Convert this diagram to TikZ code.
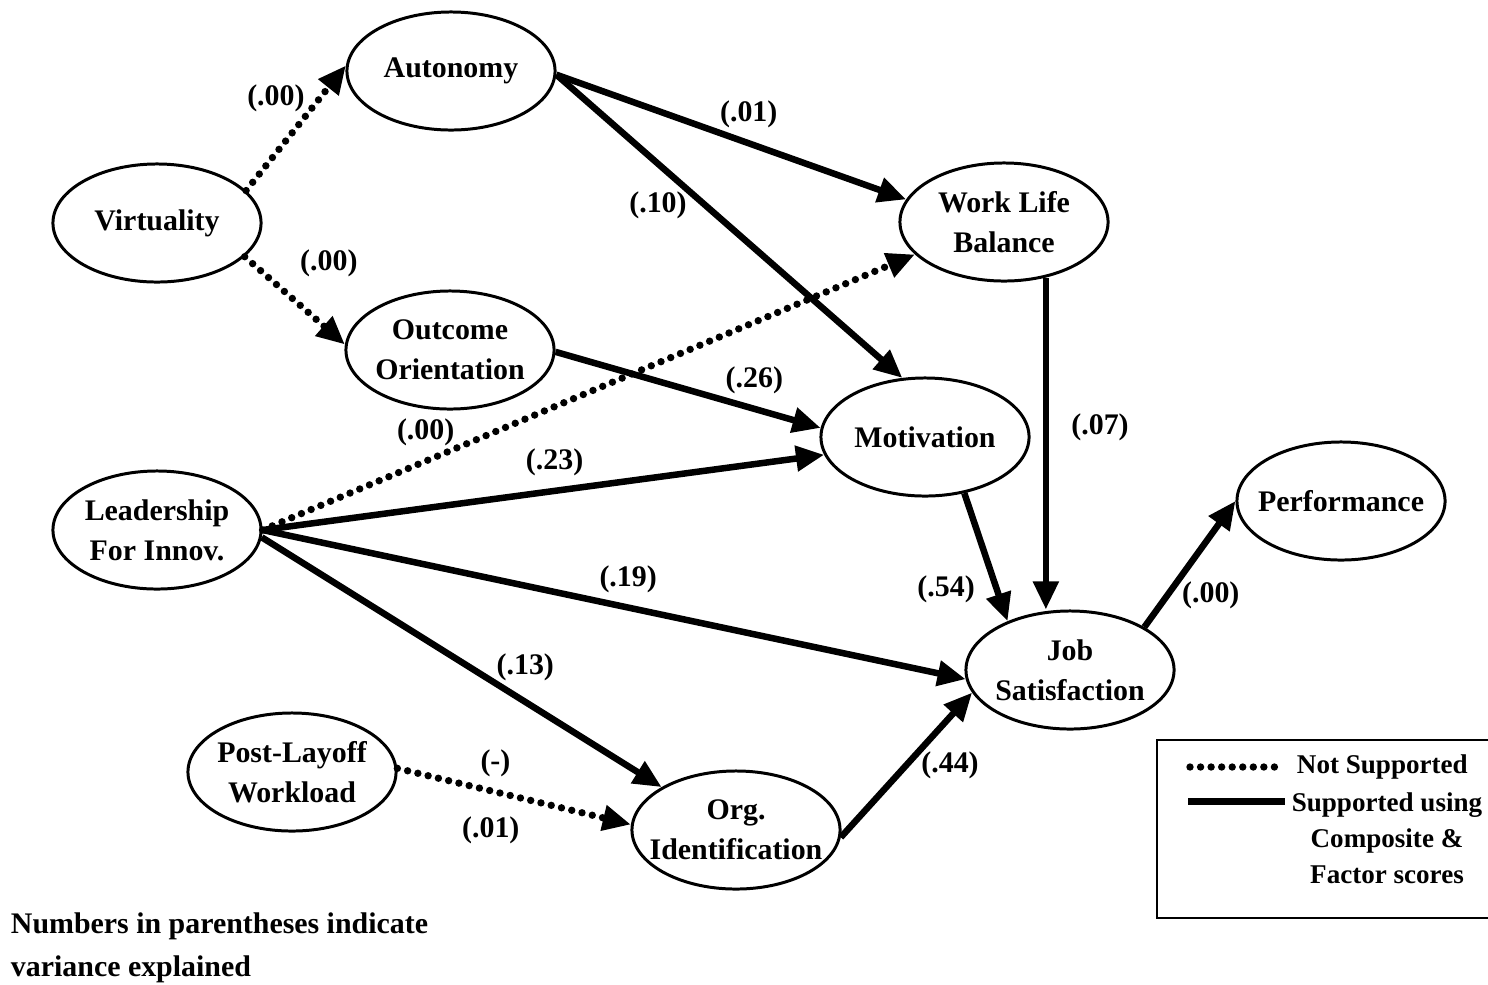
\documentclass[tikz,border=0pt]{standalone}
\usepackage{fontspec}
\setmainfont{Liberation Serif}
\usetikzlibrary{arrows.meta,shapes,positioning}

\begin{document}
\begin{tikzpicture}[x=0.01cm,y=-0.01cm,->,>={Triangle[length=8pt,width=7pt]},line width=1.85pt,
  every node/.style={font=\bfseries\fontsize{8.5}{11.4}\selectfont},
  var/.style={ellipse,draw,line width=0.85pt,minimum width=2.08cm,minimum height=1.18cm,inner sep=-4pt,align=center},
  nsup/.style={line width=2.1pt,dash pattern=on 0pt off 3pt,line cap=round}]

  \useasboundingbox (0,0) rectangle (1488,984);

  \node[var] (aut) at (451,71) {Autonomy};
  \node[var] (vir) at (157,223) {Virtuality};
  \node[var] (oo) at (450,350) {Outcome\\Orientation};
  \node[var] (wlb) at (1004,222) {Work Life\\Balance};
  \node[var] (mot) at (925,437) {Motivation};
  \node[var] (lead) at (157,530) {Leadership\\For Innov.};
  \node[var] (perf) at (1341,501) {Performance};
  \node[var] (js) at (1070,670) {Job\\Satisfaction};
  \node[var] (plw) at (292,772) {Post-Layoff\\Workload};
  \node[var] (oi) at (736,830) {Org.\\Identification};

  \path
    (vir.20) edge[nsup] node[pos=0.74,left] {(.00)} (aut.177)
    (vir.-21) edge[nsup] node[pos=0.4,above right] {(.00)} (oo.177)
    (aut.-2) edge node[pos=0.55,above] {(.01)} (wlb.167)
             edge node[pos=0.43,left=1pt] {(.10)} (mot.111)
    (oo.-1) edge node[pos=0.75,above] {(.26)} (mot.175)
    (lead.east) edge[nsup] node[pos=0.25,above] {(.00)} (wlb.-160)
                edge node[pos=0.52,above] {(.23)} (mot.-170)
                edge node[pos=0.52,above] {(.19)} (js.-175)
    (lead.-4) edge node[pos=0.55,above right,yshift=-6pt] {(.13)} (oi.150)
    (plw.2) edge[nsup] node[pos=0.42,above] {(-)} node[pos=0.4,below=3pt] {(.01)} (oi.177)
    (wlb.-53) edge node[pos=0.45,right=3pt] {(.07)} (wlb.-53 |- js.north)
    (mot.-55) edge node[pos=0.75,left=2pt] {(.54)} (js.142)
    (oi.-4) edge node[pos=0.5,right] {(.44)} (js.-167)
    (js.30) edge node[pos=0.25,right] {(.00)} (perf.west);

  % legend
  \draw[-,line width=0.6pt] (1490,740) -- (1157,740) -- (1157,918) -- (1490,918);
  \coordinate (d1) at (1190,767);
  \coordinate (d2) at (1280,767);
  \draw[-,nsup] (d1) -- (d2);
  \node[anchor=west,font=\bfseries\fontsize{7.7}{10.2}\selectfont] (ns) at (1282,767) {Not Supported};
  \coordinate (s1) at (1188,801);
  \coordinate (s2) at (1285,801);
  \draw[-,line width=2pt] (s1) -- (s2);
  \node[align=center,font=\bfseries\fontsize{7.7}{10.2}\selectfont] (su) at (1387,838) {Supported using\\Composite \&\\Factor scores};

  \node[anchor=north west,align=left,font=\bfseries\fontsize{8.5}{12.2}\selectfont] (note) at (-4,898) {Numbers in parentheses indicate\\variance explained};

\end{tikzpicture}
\end{document}
